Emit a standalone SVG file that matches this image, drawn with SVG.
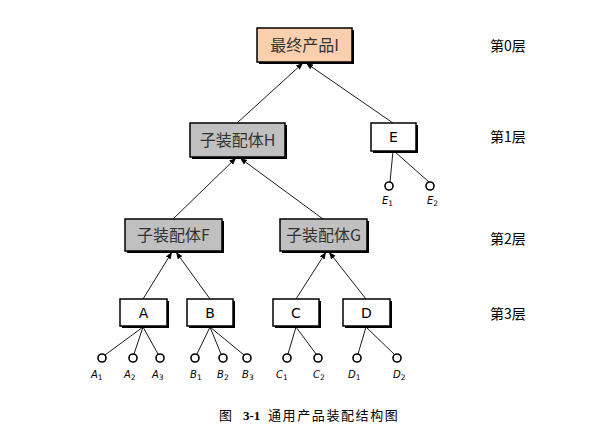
<svg xmlns="http://www.w3.org/2000/svg" width="611" height="431" viewBox="0 0 611 431">
<defs>
<marker id="ah" viewBox="0 0 10 10" refX="10" refY="5" markerWidth="7" markerHeight="7" orient="auto" markerUnits="userSpaceOnUse">
<path d="M0,1 L10,5 L0,9 z" fill="#000"/>
</marker>
</defs>
<style>
.box{stroke:#000;stroke-width:1.5}
.sh{fill:#000}
.cn{font-family:"Noto Sans CJK SC",sans-serif;font-size:16px;fill:#333}
.lt{font-family:"DejaVu Sans","Noto Sans",sans-serif;font-size:14px;fill:#000}
.lay{font-family:"Noto Sans CJK SC",sans-serif;font-size:14px;fill:#000}
.ln{stroke:#000;stroke-width:0.9;fill:none}
.ar{stroke:#000;stroke-width:0.9;fill:none;marker-end:url(#ah)}
.leaf{fill:#fff;stroke:#000;stroke-width:1.6}
.sub{font-family:"DejaVu Sans",sans-serif;font-size:10px;font-style:italic;fill:#000}
.cap{font-family:"Liberation Serif","Noto Sans CJK SC",serif;font-size:13px;fill:#000}
</style>
<rect width="611" height="431" fill="#fff"/>
<g id="connectors">
<line class="ar" x1="237" y1="123" x2="303" y2="63"/>
<line class="ar" x1="393" y1="123" x2="306" y2="63"/>
<line class="ar" x1="173" y1="219" x2="236" y2="158"/>
<line class="ar" x1="323" y1="219" x2="240" y2="158"/>
<line class="ar" x1="143" y1="299" x2="172" y2="252"/>
<line class="ar" x1="210" y1="299" x2="176" y2="252"/>
<line class="ar" x1="296" y1="299" x2="326" y2="252"/>
<line class="ar" x1="366" y1="299" x2="329" y2="252"/>
<line class="ln" x1="393" y1="151" x2="390" y2="182"/>
<line class="ln" x1="394" y1="151" x2="429" y2="182"/>
<line class="ln" x1="143" y1="327" x2="105" y2="355"/>
<line class="ln" x1="143" y1="327" x2="134" y2="354"/>
<line class="ln" x1="143" y1="327" x2="158" y2="354"/>
<line class="ln" x1="210" y1="327" x2="197" y2="354"/>
<line class="ln" x1="210" y1="327" x2="221" y2="354"/>
<line class="ln" x1="210" y1="327" x2="244" y2="355"/>
<line class="ln" x1="296" y1="327" x2="288" y2="354"/>
<line class="ln" x1="296" y1="327" x2="316" y2="354"/>
<line class="ln" x1="366" y1="327" x2="358" y2="354"/>
<line class="ln" x1="366" y1="327" x2="395" y2="355"/>
</g>
<g id="nodeI">
<rect class="sh" x="259" y="30" width="95" height="34"/>
<rect class="box" x="257" y="28" width="95" height="34" fill="#f9cfae"/>
<text class="cn" x="304.5" y="51" text-anchor="middle">最终产品I</text>
</g>
<g id="nodeH">
<rect class="sh" x="192" y="125" width="95" height="34"/>
<rect class="box" x="190" y="123" width="95" height="34" fill="#c0c0c0"/>
<text class="cn" x="237.5" y="146" text-anchor="middle">子装配体H</text>
</g>
<g id="nodeE">
<rect class="sh" x="373" y="125" width="45" height="28"/>
<rect class="box" x="371" y="123" width="45" height="28" fill="#fff"/>
<text class="lt" x="393.5" y="142" text-anchor="middle">E</text>
</g>
<g id="nodeF">
<rect class="sh" x="127" y="221" width="97" height="32"/>
<rect class="box" x="125" y="219" width="97" height="32" fill="#c0c0c0"/>
<text class="cn" x="173.5" y="241" text-anchor="middle">子装配体F</text>
</g>
<g id="nodeG">
<rect class="sh" x="282" y="221" width="87" height="32"/>
<rect class="box" x="280" y="219" width="87" height="32" fill="#c0c0c0"/>
<text class="cn" x="323.5" y="241" text-anchor="middle">子装配体G</text>
</g>
<g id="nodeA">
<rect class="sh" x="122" y="301" width="47" height="27"/>
<rect class="box" x="120" y="299" width="47" height="27" fill="#fff"/>
<text class="lt" x="143.5" y="318" text-anchor="middle">A</text>
</g>
<g id="nodeB">
<rect class="sh" x="189" y="301" width="46" height="27"/>
<rect class="box" x="187" y="299" width="46" height="27" fill="#fff"/>
<text class="lt" x="210" y="318" text-anchor="middle">B</text>
</g>
<g id="nodeC">
<rect class="sh" x="275" y="301" width="46" height="27"/>
<rect class="box" x="273" y="299" width="46" height="27" fill="#fff"/>
<text class="lt" x="296" y="318" text-anchor="middle">C</text>
</g>
<g id="nodeD">
<rect class="sh" x="345" y="301" width="47" height="27"/>
<rect class="box" x="343" y="299" width="47" height="27" fill="#fff"/>
<text class="lt" x="366.5" y="318" text-anchor="middle">D</text>
</g>
<g id="leaves">
<circle class="leaf" cx="389" cy="186" r="4"/>
<circle class="leaf" cx="430" cy="186" r="4"/>
<circle class="leaf" cx="102" cy="358" r="4"/>
<circle class="leaf" cx="133" cy="358" r="4"/>
<circle class="leaf" cx="160" cy="358" r="4"/>
<circle class="leaf" cx="195" cy="358" r="4"/>
<circle class="leaf" cx="223" cy="358" r="4"/>
<circle class="leaf" cx="247" cy="358" r="4"/>
<circle class="leaf" cx="287" cy="358" r="4"/>
<circle class="leaf" cx="318" cy="358" r="4"/>
<circle class="leaf" cx="357" cy="358" r="4"/>
<circle class="leaf" cx="397" cy="358" r="4"/>
</g>
<g id="leafLabels">
<text class="sub" x="382" y="204">E<tspan font-size="7.5" font-style="normal" dy="2">1</tspan></text>
<text class="sub" x="427" y="204">E<tspan font-size="7.5" font-style="normal" dy="2">2</tspan></text>
<text class="sub" x="91" y="378">A<tspan font-size="7.5" font-style="normal" dy="2">1</tspan></text>
<text class="sub" x="124" y="378">A<tspan font-size="7.5" font-style="normal" dy="2">2</tspan></text>
<text class="sub" x="152" y="378">A<tspan font-size="7.5" font-style="normal" dy="2">3</tspan></text>
<text class="sub" x="190" y="378">B<tspan font-size="7.5" font-style="normal" dy="2">1</tspan></text>
<text class="sub" x="217" y="378">B<tspan font-size="7.5" font-style="normal" dy="2">2</tspan></text>
<text class="sub" x="242" y="378">B<tspan font-size="7.5" font-style="normal" dy="2">3</tspan></text>
<text class="sub" x="276" y="378">C<tspan font-size="7.5" font-style="normal" dy="2">1</tspan></text>
<text class="sub" x="313" y="378">C<tspan font-size="7.5" font-style="normal" dy="2">2</tspan></text>
<text class="sub" x="348" y="378">D<tspan font-size="7.5" font-style="normal" dy="2">1</tspan></text>
<text class="sub" x="393" y="378">D<tspan font-size="7.5" font-style="normal" dy="2">2</tspan></text>
</g>
<g id="layers">
<text class="lay" x="490" y="51">第0层</text>
<text class="lay" x="490" y="142">第1层</text>
<text class="lay" x="490" y="244">第2层</text>
<text class="lay" x="490" y="319">第3层</text>
</g>
<text class="cap" x="219" y="420">图<tspan font-weight="bold" x="243">3-1</tspan><tspan x="268" letter-spacing="1.6">通用产品装配结构图</tspan></text>
</svg>
